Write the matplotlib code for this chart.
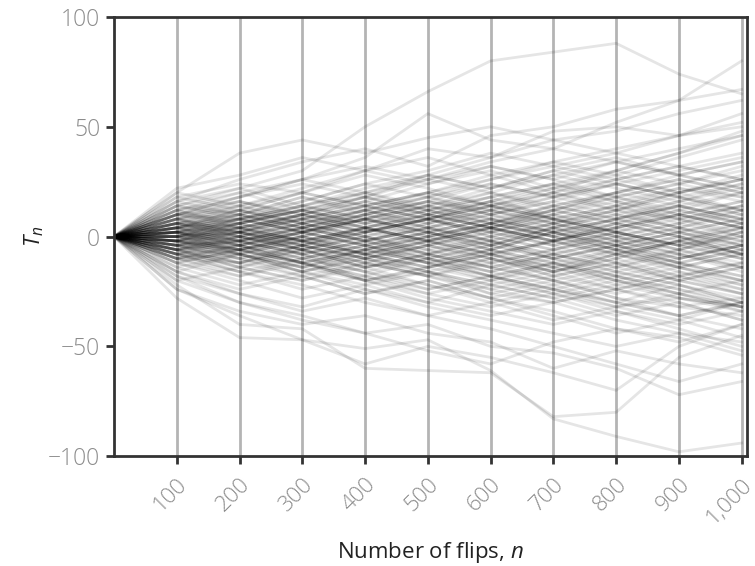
import numpy as np
import matplotlib
matplotlib.use("Agg")
from matplotlib import pyplot as plt

# number of flips at which each walk was recorded
flips = [0, 100, 200, 300, 400, 500, 600, 700, 800, 900, 1000]

# T_n at n = 100 ... 1000 (each walk starts at 0)
walks = [
    [4, 10, 2, 8, 16, 12, 20, 14, 22, 18],
    [-6, -14, -8, -20, -16, -26, -30, -24, -32, -36],
    [10, 6, 14, 20, 12, 18, 8, 2, 10, 4],
    [-2, 6, 12, 4, -4, -10, -2, 6, 0, -8],
    [8, 16, 10, 18, 28, 22, 30, 36, 28, 34],
    [-10, -4, -12, -6, 2, -6, -14, -22, -16, -24],
    [2, -8, -16, -10, -18, -26, -20, -28, -36, -30],
    [12, 4, 10, 2, 10, 18, 24, 16, 8, 14],
    [-4, 2, -6, -14, -8, 0, 6, -2, -10, -4],
    [6, 0, -8, -2, 6, 14, 8, 0, -6, 2],
    [-14, -22, -16, -24, -30, -22, -28, -36, -30, -38],
    [0, 8, 16, 24, 18, 26, 34, 28, 36, 44],
    [-8, -16, -24, -18, -10, -16, -8, -2, 4, -4],
    [16, 22, 14, 20, 26, 32, 26, 18, 24, 30],
    [2, -4, 4, 12, 6, -2, -10, -4, -12, -20],
    [-12, -6, 0, -8, -14, -6, 2, 8, 16, 10],
    [4, 12, 20, 14, 8, 0, -6, 2, -4, 4],
    [-6, -12, -4, 4, 10, 4, 12, 20, 26, 20],
    [18, 12, 20, 28, 22, 14, 20, 12, 4, -2],
    [-2, -10, -18, -26, -20, -28, -34, -42, -48, -40],
    [8, 2, -6, -12, -4, -10, -18, -12, -20, -26],
    [-16, -8, -14, -6, 0, 6, 0, 8, 14, 6],
    [6, 14, 8, 16, 10, 4, 12, 18, 24, 32],
    [-4, -10, -16, -8, -16, -22, -16, -24, -18, -12],
    [10, 18, 26, 20, 28, 36, 44, 38, 46, 52],
    [0, -6, 2, -4, -12, -18, -26, -32, -26, -34],
    [-8, 0, 6, 14, 8, 16, 10, 2, -4, -10],
    [14, 8, 2, 10, 4, -4, 4, 10, 4, 12],
    [-2, 4, -4, -12, -18, -12, -20, -14, -6, -14],
    [4, -4, -12, -20, -14, -20, -12, -20, -28, -32],
    [-20, -14, -20, -12, -18, -10, -16, -8, -14, -20],
    [12, 20, 12, 6, 12, 4, -2, 6, 12, 20],
    [-6, 2, 10, 16, 24, 30, 22, 28, 20, 26],
    [2, 10, 4, -2, -8, -2, 6, 12, 20, 28],
    [-10, -18, -12, -20, -28, -34, -40, -34, -42, -50],
    [6, -2, 4, 12, 18, 10, 16, 24, 30, 36],
    [-4, -12, -6, 0, -8, -2, -10, -18, -24, -32],
    [20, 14, 6, 12, 6, 12, 4, -4, 2, -6],
    [0, 6, 12, 6, 14, 8, 0, -8, -2, 6],
    [-12, -20, -28, -22, -30, -36, -30, -38, -44, -48],
    [8, 14, 22, 30, 24, 32, 26, 34, 40, 46],
    [-2, -8, 0, 8, 2, -6, 2, -4, -12, -6],
    [4, 10, 18, 12, 4, 10, 2, -6, -14, -8],
    [-8, -2, -10, -16, -24, -18, -12, -20, -26, -20],
    [12, 6, 12, 18, 26, 20, 12, 20, 14, 8],
    [-6, 0, -6, 2, 8, 2, -4, -12, -6, 2],
    [2, -6, 0, -8, -2, 6, 12, 6, 14, 8],
    [-16, -24, -18, -26, -20, -28, -36, -44, -38, -46],
    [10, 4, 10, 18, 12, 20, 28, 34, 28, 22],
    [-4, 4, -2, -10, -4, -12, -6, 0, -8, -16],
    [6, 12, 6, 0, 8, 16, 22, 30, 24, 18],
    [-10, -4, 2, -4, -12, -20, -14, -6, 0, -8],
    [0, -8, -14, -6, -12, -6, 2, -6, -14, -22],
    [16, 10, 18, 10, 18, 24, 18, 26, 20, 12],
    [-2, 6, 0, 8, 14, 22, 28, 22, 16, 24],
    [2, -4, -12, -18, -26, -20, -26, -34, -40, -34],
    [-8, -14, -6, -14, -8, -16, -22, -30, -22, -30],
    [8, 0, 6, -2, 4, 12, 6, 14, 6, 0],
    [-14, -8, -16, -10, -4, 4, -2, -10, -2, -10],
    [4, 12, 6, 12, 20, 14, 6, 0, 6, 14],
    [-6, -14, -20, -14, -22, -30, -38, -32, -28, -32],
    [12, 18, 24, 18, 10, 16, 24, 30, 38, 46],
    [0, 6, -2, -8, 0, -8, -16, -10, -18, -26],
    [-4, -10, -4, 4, -2, 4, 10, 4, 12, 6],
    [6, 0, -6, 0, -6, -14, -20, -28, -32, -28],
    [-12, -6, -12, -20, -14, -8, -16, -10, -2, 4],
    [10, 16, 8, 2, 8, 2, 10, 18, 10, 16],
    [-2, -8, -16, -22, -16, -24, -30, -24, -30, -38],
    [2, 8, 14, 22, 28, 22, 30, 24, 18, 10],
    [-8, -16, -10, -4, 2, -4, 4, 12, 8, 0],
    [14, 20, 26, 32, 26, 34, 40, 34, 28, 34],
    [-10, -16, -22, -30, -36, -30, -24, -32, -38, -30],
    [4, -2, 6, 0, -8, -14, -8, -16, -10, -4],
    [-4, 2, 10, 4, 12, 6, 0, 6, 0, -8],
    [8, 2, -4, -10, -16, -10, -18, -24, -18, -12],
    [-6, -12, -4, -10, -2, -10, -16, -8, -16, -22],
    [0, 8, 2, 10, 16, 10, 18, 12, 20, 26],
    [-18, -26, -32, -24, -32, -38, -44, -50, -44, -52],
    [6, 10, 4, -2, -10, -4, 4, -2, -8, -2],
    [2, 6, 12, 20, 14, 6, 14, 20, 28, 22],
    [-2, -6, -12, -6, 0, -6, -12, -18, -26, -32],
    [10, 14, 20, 14, 20, 28, 34, 40, 46, 50],
    [-8, -4, 2, 8, 0, 6, 14, 8, 2, 8],
    [4, 0, -6, -14, -10, -18, -24, -18, -24, -30],
    [-12, -18, -10, -4, -10, -18, -24, -30, -36, -42],
    [0, 4, 10, 4, -2, 4, -4, 2, -4, 2],
    [14, 10, 16, 24, 30, 38, 32, 26, 32, 26],
    [-4, -8, -2, -8, -14, -8, -2, -8, -2, 4],
    [6, 2, -4, 2, 8, 0, -6, -12, -20, -14],
    [-6, 0, 8, 14, 20, 26, 32, 38, 32, 38],
    [2, -2, -8, -16, -22, -28, -22, -16, -22, -30],
    [8, 12, 4, 10, 16, 24, 18, 24, 18, 12],
    [-10, -6, -14, -20, -26, -32, -26, -20, -26, -32],
    [-2, 2, 8, 14, 8, 14, 22, 16, 22, 16],
    [4, 8, 2, -4, 2, 8, 2, 8, 14, 20],
    [-8, -12, -18, -12, -6, -12, -6, 0, 6, 12],
    [12, 16, 10, 4, 10, 16, 8, 2, -4, 0],
    [-2, -6, 0, 6, 12, 6, 0, -6, -12, -18],
]

# walks staying close to zero (the dark core of the cloud)
central_walks = [
    [2, 4, -2, 4, 10, 4, -2, 4, 10, 16],
    [-2, -4, 2, -4, -10, -16, -10, -4, -10, -4],
    [6, 8, 2, 8, 2, 8, 14, 8, 14, 8],
    [-4, 0, -4, -10, -4, 2, -4, 2, -6, -12],
    [0, -2, 4, 10, 4, 10, 4, -2, 4, -2],
    [8, 4, 8, 2, -4, 2, 8, 14, 8, 2],
    [-6, -2, -8, -2, 4, -2, -8, -14, -8, -14],
    [4, -2, -8, -2, -8, -14, -8, -14, -20, -14],
    [-8, -10, -4, 2, 8, 14, 8, 2, 8, 14],
    [2, 8, 12, 6, 0, 6, 12, 6, 0, -6],
    [-2, 2, -2, 4, -2, -8, -14, -20, -14, -8],
    [10, 8, 14, 8, 14, 20, 14, 20, 26, 20],
    [-10, -8, -2, -8, -2, 4, 10, 16, 10, 4],
    [0, 4, -2, 2, 8, 2, 8, 2, -4, -10],
    [4, 2, 8, 14, 20, 14, 8, 14, 20, 26],
    [-4, -2, -8, -14, -8, -14, -20, -26, -20, -26],
    [6, 2, -2, -8, -2, 4, -2, 4, 10, 4],
    [-6, -8, -14, -8, -14, -8, -2, -8, -14, -20],
    [2, -2, 2, 8, 14, 8, 2, -4, 2, 8],
    [-2, 0, 6, 0, -6, 0, 6, 12, 18, 12],
    [0, -4, -10, -16, -10, -4, -10, -16, -22, -28],
    [4, 6, 12, 18, 12, 18, 24, 18, 12, 6],
    [-4, -6, 0, -6, -12, -18, -12, -6, 0, 6],
    [2, 0, -6, 0, 6, 12, 18, 24, 18, 24],
    [8, 10, 4, -2, 4, -2, -8, -2, -8, -14],
    [-6, -4, 2, 8, 2, 8, 2, -4, -10, -4],
    [0, 2, 8, 2, 8, 14, 20, 26, 32, 26],
    [-8, -6, -12, -18, -24, -18, -24, -30, -36, -30],
    [6, 4, -2, 4, -2, -8, -14, -8, -2, -8],
    [-2, -6, -12, -6, 0, 6, 0, -6, -12, -6],
    [4, 8, 14, 8, 2, -4, 2, 8, 2, -4],
    [-4, -2, 4, 10, 16, 10, 16, 10, 4, 10],
    [2, 6, 0, -6, -12, -6, -12, -18, -12, -18],
    [-6, -2, 4, -2, 4, -2, 4, 10, 16, 22],
    [0, -6, -2, 4, -2, -8, -2, 4, -2, -8],
    [10, 12, 6, 12, 18, 12, 6, 0, -6, 0],
    [-10, -12, -6, -12, -18, -24, -18, -12, -18, -24],
    [2, -4, -10, -4, 2, -4, -10, -4, 2, -4],
    [-2, 4, 10, 16, 10, 4, -2, 4, 10, 4],
    [0, 2, -4, -10, -16, -22, -28, -22, -28, -34],
]

# the walks that reach the edges of the cloud
extreme_walks = [
    [14, 22, 30, 50, 66, 80, 84, 88, 74, 65],
    [20, 38, 44, 38, 45, 50, 44, 48, 56, 62],
    [10, 18, 26, 36, 56, 44, 40, 52, 62, 80],
    [18, 24, 20, 30, 40, 36, 48, 50, 46, 56],
    [16, 26, 34, 40, 32, 46, 50, 58, 62, 67],
    [22, 28, 36, 30, 36, 28, 20, 30, 38, 48],
    [-28, -46, -47, -51, -47, -61, -83, -91, -98, -94],
    [-22, -40, -42, -60, -61, -62, -82, -80, -55, -45],
    [-18, -30, -38, -44, -40, -50, -53, -60, -72, -66],
    [-24, -36, -47, -58, -50, -55, -62, -70, -50, -40],
    [-20, -30, -36, -44, -52, -58, -48, -42, -46, -54],
    [-24, -34, -40, -36, -44, -48, -60, -52, -58, -62],
    [-16, -26, -34, -28, -36, -42, -50, -58, -66, -58],
]

tick_labels = ['100', '200', '300', '400', '500', '600', '700', '800', '900', '1,000']

plt.rcParams['font.family'] = ['Open Sans', 'DejaVu Sans']
plt.rcParams['mathtext.fontset'] = 'custom'
plt.rcParams['mathtext.it'] = 'Open Sans:italic'
plt.rcParams['mathtext.rm'] = 'Open Sans'

fig = plt.figure(figsize=(7.55, 5.66), dpi=100)
ax = fig.add_axes([0.151, 0.194, 0.838, 0.776])

for w in walks + central_walks + extreme_walks:
    ax.plot(flips, [0] + w, color='black', alpha=0.1, lw=2.0, solid_joinstyle='round')

ax.set_xlim(0, 1008)
ax.set_ylim(-100, 100)
ax.set_xticks(flips[1:])
ax.set_xticklabels(tick_labels, rotation=45, ha='right', va='top',
                   rotation_mode='anchor')
ax.set_yticks([-100, -50, 0, 50, 100])
ax.set_yticklabels(['\u2212100', '\u221250', '0', '50', '100'])

ax.grid(axis='x', color='#b4b4b4', lw=2)
ax.set_axisbelow(True)
for s in ax.spines.values():
    s.set_color('#333333')
    s.set_linewidth(2)
ax.tick_params(axis='both', length=6, width=2, color='#333333',
               labelcolor='#8c8c8c', labelsize=16.5, pad=4)
ax.tick_params(axis='x', labelsize=16, pad=7)
for lab in ax.get_xticklabels() + ax.get_yticklabels():
    lab.set_fontweight('light')

ax.set_xlabel('Number of flips, $n$', fontsize=16, color='#222222')
ax.xaxis.set_label_coords(0.5, -0.19)
ax.set_ylabel('$T_n$', fontsize=16, color='#222222')
ax.yaxis.set_label_coords(-0.108, 0.5)

fig.savefig('out.png', dpi=100)
